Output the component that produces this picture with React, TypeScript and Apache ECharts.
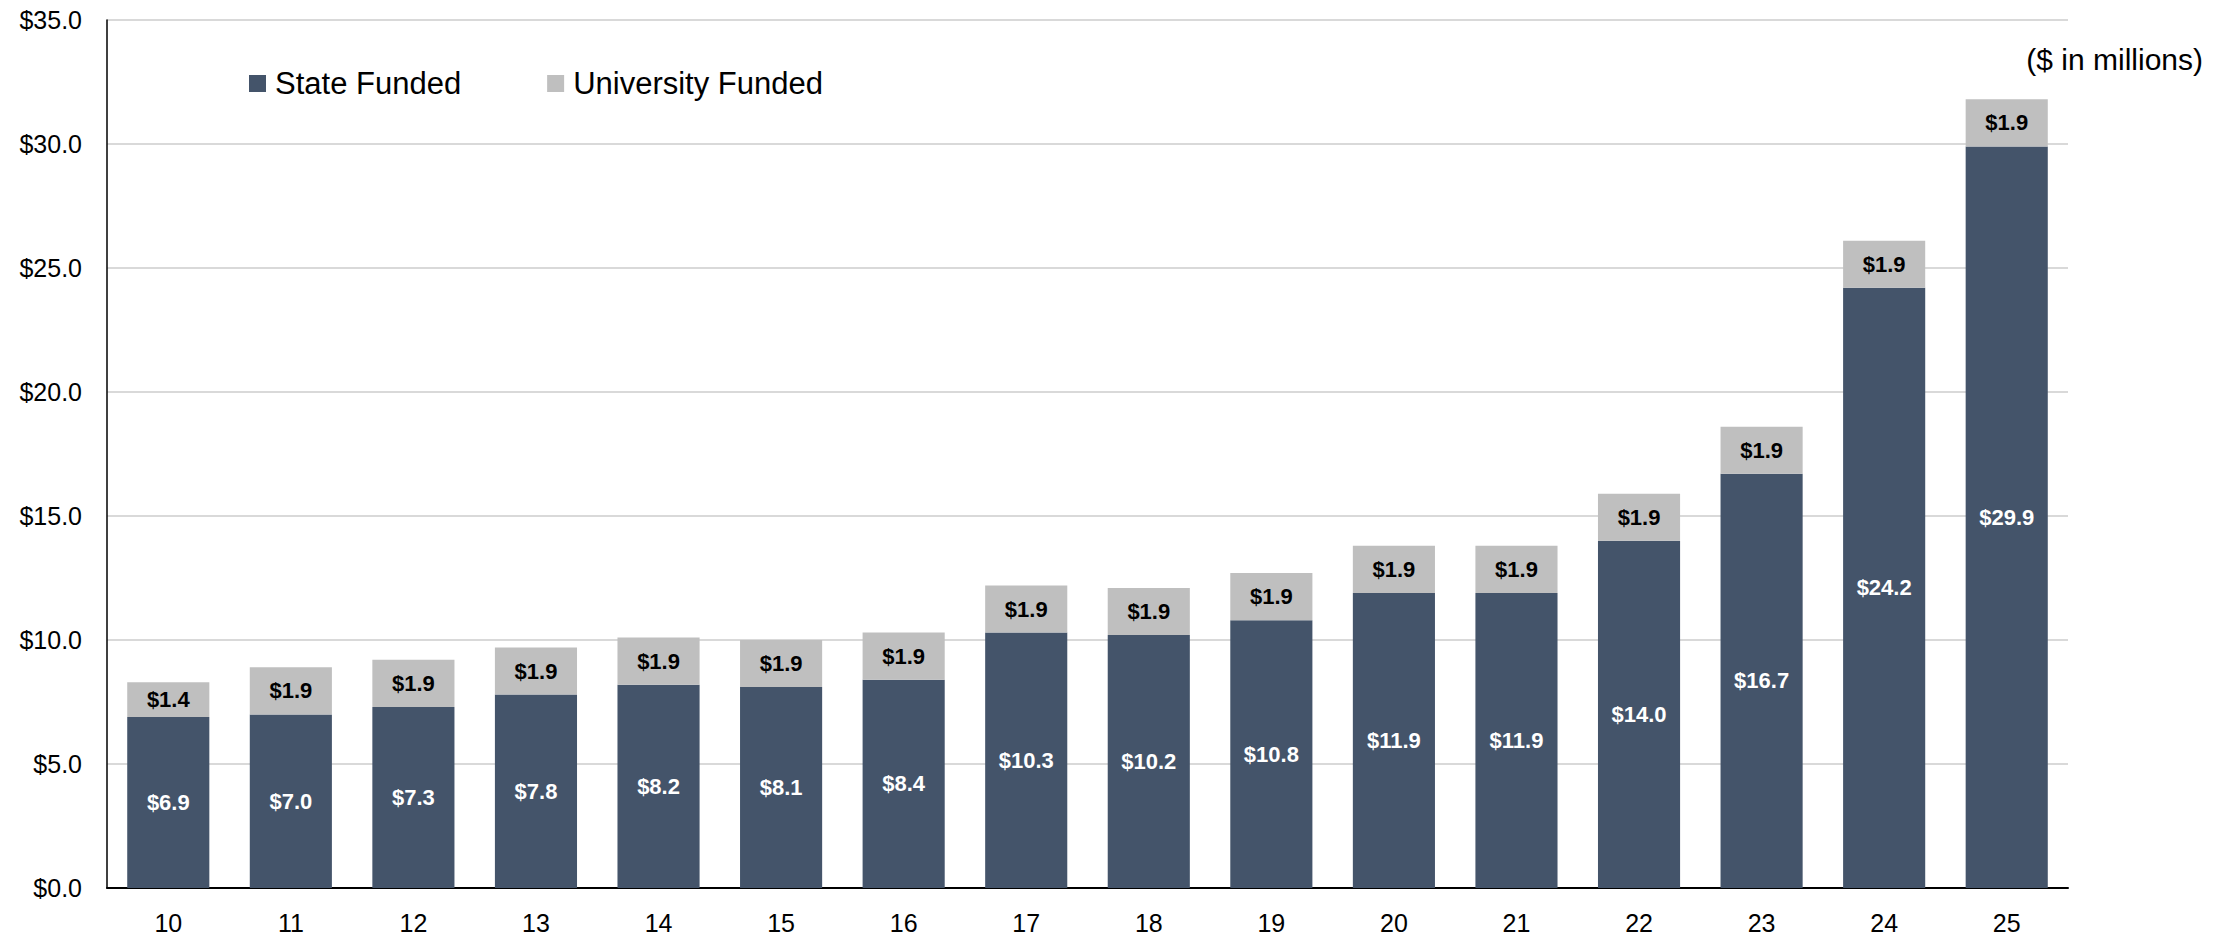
import React, { useEffect, useRef } from "react";
import * as echarts from "echarts";

const categories = ["10", "11", "12", "13", "14", "15", "16", "17", "18", "19", "20", "21", "22", "23", "24", "25"];
const stateFunded = [6.9, 7.0, 7.3, 7.8, 8.2, 8.1, 8.4, 10.3, 10.2, 10.8, 11.9, 11.9, 14.0, 16.7, 24.2, 29.9];
const universityFunded = [1.4, 1.9, 1.9, 1.9, 1.9, 1.9, 1.9, 1.9, 1.9, 1.9, 1.9, 1.9, 1.9, 1.9, 1.9, 1.9];
const seriesNames = ["State Funded", "University Funded"];
const unitLabel = "($ in millions)";

const FONT = "'Liberation Sans', Arial, sans-serif";
const fmt = (v: number) => "$" + v.toFixed(1);

export default function App() {
  const ref = useRef<HTMLDivElement>(null);
  useEffect(() => {
    if (!ref.current) return;
    const chart = echarts.init(ref.current, undefined, { renderer: "svg" });
    chart.setOption({
      animation: false,
      textStyle: { fontFamily: FONT },
      grid: { left: 107, right: 165, top: 20, bottom: 47, containLabel: false },
      legend: {
        left: 244,
        top: 63,
        itemWidth: 17,
        itemHeight: 17,
        itemGap: 86,
        icon: "rect",
        textStyle: { fontSize: 31, color: "#000", fontFamily: FONT, padding: [0, 0, 0, 4] },
        data: seriesNames,
      },
      graphic: [
        {
          type: "text",
          right: 30,
          top: 44,
          style: { text: unitLabel, fontSize: 30, fill: "#000", fontFamily: FONT },
        },
      ],
      xAxis: {
        type: "category",
        data: categories,
        axisLine: { show: true, lineStyle: { color: "#000", width: 2 } },
        axisTick: { show: false },
        axisLabel: { fontSize: 25, color: "#000", margin: 22, fontFamily: FONT },
      },
      yAxis: {
        type: "value",
        min: 0,
        max: 35,
        interval: 5,
        axisLine: { show: true, lineStyle: { color: "#000", width: 1.5 } },
        axisTick: { show: false },
        splitLine: { show: true, lineStyle: { color: "#D9D9D9", width: 2 } },
        axisLabel: { fontSize: 25, color: "#000", margin: 25, formatter: (v: number) => fmt(v), fontFamily: FONT },
      },
      series: [
        {
          name: seriesNames[0],
          type: "bar",
          stack: "total",
          data: stateFunded,
          barCategoryGap: "33%",
          itemStyle: { color: "#44546A" },
          label: {
            show: true,
            position: "inside",
            color: "#fff",
            fontSize: 22,
            fontWeight: "bold",
            fontFamily: FONT,
            formatter: (p: any) => fmt(p.value),
          },
        },
        {
          name: seriesNames[1],
          type: "bar",
          stack: "total",
          data: universityFunded,
          barCategoryGap: "33%",
          itemStyle: { color: "#BFBFBF" },
          label: {
            show: true,
            position: "inside",
            color: "#000",
            fontSize: 22,
            fontWeight: "bold",
            fontFamily: FONT,
            formatter: (p: any) => fmt(p.value),
          },
        },
      ],
    });
    return () => chart.dispose();
  }, []);
  return <div ref={ref} style={{ position: "absolute", left: 0, top: 0, width: 2233, height: 935, background: "#fff" }} />;
}
